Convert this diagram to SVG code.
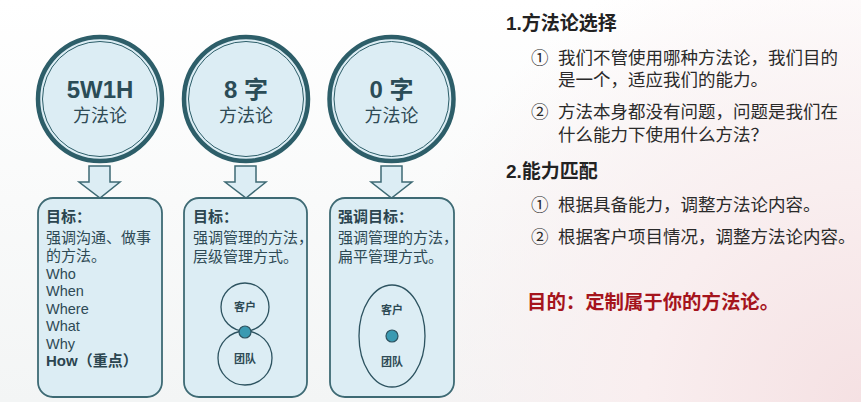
<svg xmlns="http://www.w3.org/2000/svg" width="861" height="402" viewBox="0 0 861 402">
<defs>
<radialGradient id="bg" cx="861" cy="402" r="480" gradientUnits="userSpaceOnUse">
<stop offset="0" stop-color="#f5e1e3"/>
<stop offset="0.45" stop-color="#f9eeef"/>
<stop offset="1" stop-color="#f9eeef" stop-opacity="0"/>
</radialGradient>
<linearGradient id="bgl" x1="0" y1="0" x2="0" y2="1">
<stop offset="0" stop-color="#ffffff"/>
<stop offset="1" stop-color="#f3f5f5"/>
</linearGradient>
</defs>
<style>
.ring{fill:#dcedf4;stroke:#2d5e69;stroke-width:4.5}
.ring2{fill:none;stroke:#2d5e69;stroke-width:1}
.arrow{fill:#dcedf4;stroke:#3e6a74;stroke-width:1.5;stroke-linejoin:miter}
.box{fill:#dcedf4;stroke:#3e6a74;stroke-width:1.8}
.ln{fill:none;stroke:#2d5360;stroke-width:1.3}
.dot{fill:#3a9ab2;stroke:#2d5360;stroke-width:1.2}
text{font-family:"Liberation Sans","Noto Sans CJK SC",sans-serif;fill:#2e4a55}
.big{font-size:24px;font-weight:bold;text-anchor:middle;fill:#2b4c57}
.sub{font-size:18px;text-anchor:middle;fill:#2e4a55}
.bt{font-size:15px;fill:#2e4a55}
.lt{font-size:14.5px;fill:#2e4a55}
.bb{font-size:15px;font-weight:bold;fill:#2b4550}
.sm{font-size:11px;font-weight:bold;text-anchor:middle;fill:#2e4a55}
.h{font-size:19px;font-weight:bold;fill:#222}
.p{font-size:17.5px;fill:#2a2a2a}
.red{font-size:19.4px;font-weight:bold;fill:#a5141c}
</style>
<rect width="861" height="402" fill="url(#bgl)"/>
<rect width="861" height="402" fill="url(#bg)"/>

<g id="node-5w1h">
<circle class="ring" cx="100" cy="99" r="62"/>
<circle class="ring2" cx="100" cy="99" r="57.5"/>
<text class="big" x="100" y="98">5W1H</text>
<text class="sub" x="100" y="122">方法论</text>
</g>
<g id="node-8zi">
<circle class="ring" cx="246" cy="99" r="62"/>
<circle class="ring2" cx="246" cy="99" r="57.5"/>
<text class="big" x="246" y="98">8 字</text>
<text class="sub" x="246" y="122">方法论</text>
</g>
<g id="node-0zi">
<circle class="ring" cx="391.5" cy="99" r="62"/>
<circle class="ring2" cx="391.5" cy="99" r="57.5"/>
<text class="big" x="391.5" y="98">0 字</text>
<text class="sub" x="391.5" y="122">方法论</text>
</g>

<g id="connectors">
<path class="arrow" d="M89,166 H110 V182 H120 L100,198 L79,182 H89 Z"/>
<path class="arrow" d="M235,166 H256 V182 H266 L246,198 L225,182 H235 Z"/>
<path class="arrow" d="M381,166 H402 V182 H412 L391.5,198 L371,182 H381 Z"/>
</g>

<g id="box-5w1h">
<rect class="box" x="38" y="198" width="124" height="199" rx="15"/>
<text class="bb" x="46" y="222">目标：</text>
<text class="bt" x="46" y="243">强调沟通、做事</text>
<text class="bt" x="46" y="261">的方法。</text>
<text class="lt" x="46" y="279">Who</text>
<text class="lt" x="46" y="296">When</text>
<text class="lt" x="46" y="314">Where</text>
<text class="lt" x="46" y="331">What</text>
<text class="lt" x="46" y="349">Why</text>
<text class="bb" x="46" y="366">How（重点）</text>
</g>

<g id="box-8zi">
<rect class="box" x="184" y="198" width="123" height="199" rx="15"/>
<text class="bb" x="193" y="222">目标：</text>
<text class="bt" x="193" y="243">强调管理的方法，</text>
<text class="bt" x="193" y="262">层级管理方式。</text>
<circle class="ln" cx="245" cy="307" r="24"/>
<circle class="ln" cx="245" cy="358" r="27"/>
<circle class="dot" cx="245" cy="332" r="6"/>
<text class="sm" x="245" y="311">客户</text>
<text class="sm" x="245" y="363">团队</text>
</g>

<g id="box-0zi">
<rect class="box" x="330" y="198" width="124" height="199" rx="15"/>
<text class="bb" x="338" y="222">强调目标：</text>
<text class="bt" x="338" y="243">强调管理的方法，</text>
<text class="bt" x="338" y="262">扁平管理方式。</text>
<ellipse class="ln" cx="392" cy="336" rx="33" ry="51"/>
<circle class="dot" cx="392" cy="336" r="6"/>
<text class="sm" x="392" y="314">客户</text>
<text class="sm" x="392" y="366">团队</text>
</g>

<g id="right-text">
<text class="h" x="506" y="30">1.方法论选择</text>
<text class="p" x="531" y="64">①</text>
<text class="p" x="558" y="64">我们不管使用哪种方法论，我们目的</text>
<text class="p" x="558" y="86">是一个，适应我们的能力。</text>
<text class="p" x="531" y="118">②</text>
<text class="p" x="558" y="118">方法本身都没有问题，问题是我们在</text>
<text class="p" x="558" y="141">什么能力下使用什么方法？</text>
<text class="h" x="506" y="178">2.能力匹配</text>
<text class="p" x="531" y="211">①</text>
<text class="p" x="558" y="211">根据具备能力，调整方法论内容。</text>
<text class="p" x="531" y="243">②</text>
<text class="p" x="558" y="243">根据客户项目情况，调整方法论内容。</text>
<text class="red" x="527" y="309">目的：定制属于你的方法论。</text>
</g>
</svg>
